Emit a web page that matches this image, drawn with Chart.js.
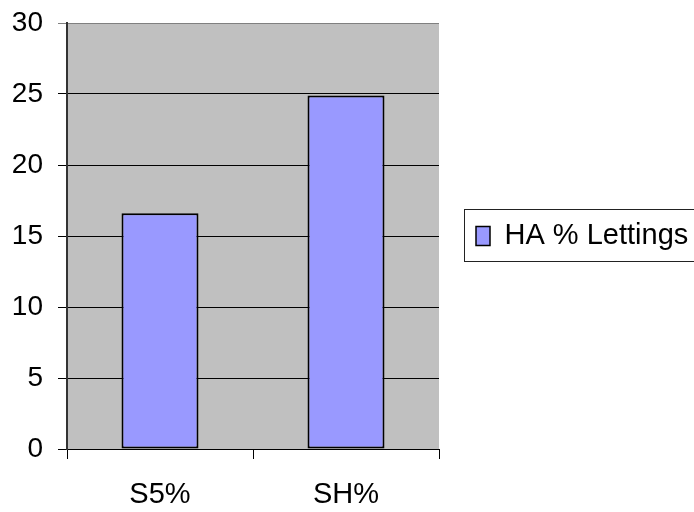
<!DOCTYPE html>
<html>
<head>
<meta charset="utf-8">
<script src="https://cdn.jsdelivr.net/npm/chart.js@4.4.0/dist/chart.umd.min.js"></script>
<style>
  html, body { margin: 0; padding: 0; background: #fff; }
  #wrap { width: 694px; height: 512px; }
</style>
</head>
<body>
<div id="wrap"><canvas id="grafica"></canvas></div>
<script>
    const categorias = ["S5%", "SH%"];
    const valores = [16.6, 24.9];
    const serie = "HA % Lettings";
    const ejeY = { min: 0, max: 30, step: 5 };

    const fuente = "'Liberation Sans', Arial, sans-serif";

    // fondo gris del area de trazado
    const fondo = {
        id: "fondo",
        beforeDraw(chart) {
            const a = chart.chartArea;
            const ctx = chart.ctx;
            ctx.save();
            ctx.fillStyle = "#c0c0c0";
            ctx.fillRect(a.left, a.top, a.right - a.left, a.bottom - a.top);
            ctx.restore();
        }
    };

    // marco de la leyenda
    const marco = {
        id: "marco",
        afterDraw(chart) {
            const hb = chart.legend.legendHitBoxes[0];
            if (!hb) return;
            const ctx = chart.ctx;
            const cy = hb.top + hb.height / 2;
            ctx.save();
            ctx.strokeStyle = "#222";
            ctx.lineWidth = 1;
            ctx.strokeRect(hb.left - 11.5, cy - 26.5, 260, 52);
            ctx.restore();
        }
    };

    let grafica = document.getElementById("grafica").getContext("2d");

    var chart = new Chart(grafica, {
        type: "bar",
        data: {
            labels: categorias,
            datasets: [
                {
                    label: serie,
                    backgroundColor: "#9999ff",
                    borderColor: "#000",
                    borderWidth: 2,
                    borderSkipped: false,
                    barPercentage: 0.414,
                    categoryPercentage: 1,
                    data: valores
                }
            ]
        },
        options: {
            responsive: true,
            maintainAspectRatio: false,
            animation: false,
            layout: { padding: { top: 23, left: 0, right: 0, bottom: 0 } },
            plugins: {
                tooltip: { enabled: false },
                legend: {
                    position: "right",
                    fullSize: false,
                    maxWidth: 255,
                    labels: {
                        boxWidth: 14,
                        boxHeight: 19,
                        padding: 37,
                        color: "#000",
                        font: { family: fuente, size: 29 },
                        generateLabels(chart) {
                            return [{
                                text: serie,
                                fillStyle: "#9999ff",
                                strokeStyle: "#000",
                                lineWidth: 1.5,
                                datasetIndex: 0,
                                hidden: false
                            }];
                        }
                    }
                }
            },
            scales: {
                x: {
                    offset: true,
                    grid: {
                        offset: true,
                        drawOnChartArea: false,
                        drawTicks: true,
                        tickLength: 10,
                        color: "#000"
                    },
                    border: { color: "#000", width: 1 },
                    ticks: {
                        color: "#000",
                        padding: 19,
                        font: { family: fuente, size: 29 }
                    },
                    afterFit(s) { s.height = 63; }
                },
                y: {
                    min: ejeY.min,
                    max: ejeY.max,
                    grid: {
                        tickLength: 9,
                        color(c) { return c.tick && c.tick.value === ejeY.max ? "#808080" : "#000"; }
                    },
                    border: { color: "#333", width: 2 },
                    ticks: {
                        stepSize: ejeY.step,
                        color: "#000",
                        padding: 15,
                        font: { family: fuente, size: 28 }
                    },
                    afterFit(s) {
                        s.width = 67;
                        s.paddingTop = 0;
                        s.paddingBottom = 0;
                    }
                }
            }
        },
        plugins: [fondo, marco]
    })
</script>
</body>
</html>
